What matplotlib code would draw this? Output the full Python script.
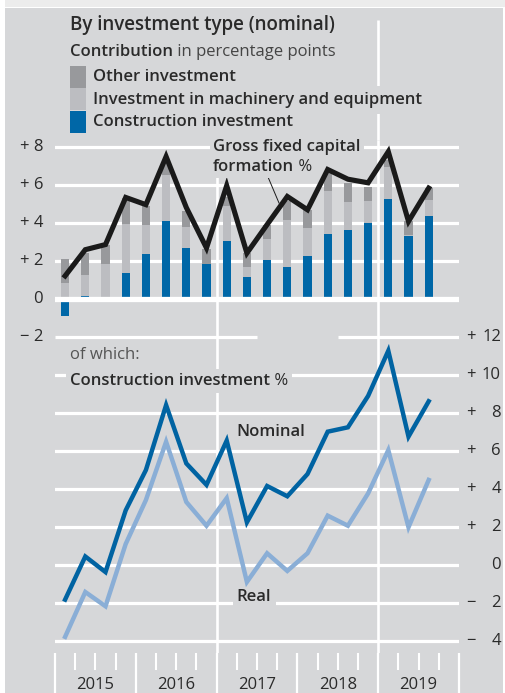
import matplotlib
matplotlib.use("Agg")
import matplotlib.pyplot as plt
import matplotlib.transforms as mtransforms
from matplotlib.patches import Rectangle
from matplotlib.lines import Line2D
import numpy as np

# data: quarterly, 2015 Q1 .. 2019 Q3
years = ["2015", "2016", "2017", "2018", "2019"]
construction = [-0.9, 0.15, -0.1, 1.33, 2.36, 4.07, 2.65, 1.85, 3.06, 1.12,
                2.03, 1.66, 2.24, 3.4, 3.6, 4.0, 5.26, 3.32, 4.37]
machinery = [0.8, 1.1, 1.8, 2.62, 1.54, 2.45, 1.1, -0.1, 1.8, 0.56,
             1.11, 2.46, 1.46, 2.28, 1.47, 1.12, 1.69, 0.05, 0.8]
other = [1.3, 1.13, 1.05, 1.35, 1.0, 0.75, 0.85, 0.75, 0.5, 0.72,
         0.76, 1.0, 0.98, 0.92, 1.01, 0.78, 0.35, 0.7, 0.65]
gfcf = [1.2, 2.58, 2.85, 5.33, 4.95, 7.48, 4.8, 2.67, 5.95, 2.4,
        3.9, 5.38, 4.68, 6.8, 6.29, 6.1, 7.74, 4.07, 5.82]
nominal = [-1.84, 0.43, -0.39, 2.86, 4.98, 8.4, 5.33, 4.2, 6.53, 2.23,
           4.14, 3.6, 4.77, 7.0, 7.23, 8.88, 11.26, 6.74, 8.6]
real = [-3.8, -1.44, -2.19, 1.09, 3.4, 6.47, 3.3, 2.05, 3.5, -0.91,
        0.6, -0.33, 0.6, 2.58, 2.05, 3.75, 6.03, 1.97, 4.46]

left_ticks = [8, 6, 4, 2, 0, -2]
right_ticks = [12, 10, 8, 6, 4, 2, 0, -2, -4]
OFFSET = 14  # lower panel shares the grid: right value r sits at left value r - 14

BG = "#d6d7d9"
BLUE = "#0067a7"
NOM = "#0063a2"
REAL = "#8aaed6"
LGRAY = "#bcbdc1"
DGRAY = "#98999c"
TXT = "#2a2a2a"
FONT = "Open Sans"
FS = 12

plt.rcParams["font.family"] = [FONT, "DejaVu Sans"]

W, H = 505, 693
fig = plt.figure(figsize=(W / 100, H / 100), dpi=100)
fig.patch.set_facecolor("white")


def fx(x):
    return x / W


def fy(y):
    return 1 - y / H


fig.patches.append(Rectangle((fx(5), 0), fx(498), 1 - 8 / H, transform=fig.transFigure,
                             facecolor=BG, edgecolor="none", zorder=-10))
fig.patches.append(Rectangle((fx(5), fy(7)), fx(500), 7 / H, transform=fig.transFigure,
                             facecolor="#ececec", edgecolor="none", zorder=-10))

ax = fig.add_axes([fx(55), fy(653), fx(404), (653 - 20) / H])
ax.set_facecolor("none")
for s in ax.spines.values():
    s.set_visible(False)
ax.set_xlim(0, 20)
ax.set_ylim(-18.65, 14.67)

# grid
for v in [8, 6, 4, 2]:
    ax.axhline(v, color="white", lw=2.3, zorder=1)
ax.axhline(0, color="white", lw=3.8, zorder=2.5)
ax.hlines([-2, -2], [0, 14], [10, 20], color="white", lw=2.3, zorder=1)
for r in right_ticks[1:]:
    ax.axhline(r - OFFSET, color="white", lw=2.3, zorder=1)
ax.vlines([8, 16], ax.get_ylim()[0], 8.35, color="white", lw=1.9, zorder=1)
ax.vlines(16, 8.35, ax.get_ylim()[1], color="white", lw=1.9, zorder=1)

# stacked bars
x = np.arange(len(gfcf)) + 0.5
pos = np.zeros(len(x))
neg = np.zeros(len(x))
for vals, col in [(construction, BLUE), (machinery, LGRAY), (other, DGRAY)]:
    v = np.array(vals)
    bottom = np.where(v >= 0, pos, neg)
    ax.bar(x, v, bottom=bottom, width=0.4, color=col, zorder=2)
    pos = np.where(v >= 0, pos + v, pos)
    neg = np.where(v < 0, neg + v, neg)

ax.plot(x, gfcf, color="#1a1a1a", lw=3.7, zorder=4, solid_joinstyle="miter")
ax.plot(x, np.array(real) - OFFSET, color=REAL, lw=3.2, zorder=3, solid_joinstyle="miter")
ax.plot(x, np.array(nominal) - OFFSET, color=NOM, lw=3.2, zorder=4, solid_joinstyle="miter")

# x ticks
ax.set_xticks(np.arange(0, 21, 4))
ax.set_xticks(np.arange(0, 21, 1), minor=True)
ax.tick_params(axis="x", which="major", length=29, width=1.6, color="white",
               direction="out", labelbottom=False)
ax.tick_params(axis="x", which="minor", length=12, width=1.5, color="white",
               direction="out")
ax.set_yticks([])
xt = mtransforms.blended_transform_factory(ax.transData, fig.transFigure)
for i, yr in enumerate(years):
    ax.text(i * 4 + 2, fy(685), yr, transform=xt, ha="center", va="center",
            fontsize=FS, color=TXT)

# y tick labels
yt = mtransforms.blended_transform_factory(fig.transFigure, ax.transData)
for v in left_ticks:
    lab = "0" if v == 0 else ("+ %d" % v if v > 0 else "\u2212 %d" % -v)
    ax.text(fx(43), v, lab, transform=yt, ha="right", va="center", fontsize=FS,
            color=TXT, clip_on=False)
for r in right_ticks:
    if r != 0:
        ax.text(fx(466), r - OFFSET, "+" if r > 0 else "\u2212", transform=yt, ha="left",
                va="center", fontsize=FS, color=TXT, clip_on=False)
    ax.text(fx(501), r - OFFSET, str(abs(r)), transform=yt, ha="right", va="center",
            fontsize=FS, color=TXT, clip_on=False)

renderer = fig.canvas.get_renderer()


def rich(xp, yp, parts, size=FS, pad=None):
    """Draw text pieces of different weight one after another (pixel coords).
    pad: if given, put a background box (pad in px) behind all pieces."""
    cur = fx(xp)
    boxes = []
    for txt, weight, col in parts:
        t = fig.text(cur, fy(yp), txt, fontsize=size, fontweight=weight, color=col,
                     ha="left", va="center", zorder=5)
        bb = t.get_window_extent(renderer)
        boxes.append(bb)
        cur = bb.x1 / fig.bbox.width
    if pad is not None:
        x0 = min(b.x0 for b in boxes) - pad
        x1 = max(b.x1 for b in boxes) + pad
        y0 = min(b.y0 for b in boxes) - pad
        y1 = max(b.y1 for b in boxes) + pad
        fig.patches.append(Rectangle((x0 / W, y0 / H), (x1 - x0) / W, (y1 - y0) / H,
                                     transform=fig.transFigure, facecolor=BG,
                                     edgecolor="none", zorder=4.5))
    return cur


# legend block
rich(70, 25, [("By investment type (nominal)", "semibold", TXT)], size=13.5)
rich(70, 52, [("Contribution", "semibold", TXT), (" in percentage points", "normal", "#444444")])
for y0, col in [(66, DGRAY), (88, LGRAY), (111, BLUE)]:
    fig.patches.append(Rectangle((fx(70), fy(y0 + 22)), fx(16), 22 / H,
                                 transform=fig.transFigure, facecolor=col,
                                 edgecolor="none", zorder=5))
rich(93, 77, [("Other investment", "semibold", TXT)])
rich(93, 100, [("Investment in machinery and equipment", "semibold", TXT)], pad=6)
rich(93, 122, [("Construction investment", "semibold", TXT)])

# annotation for GFCF line
rich(213, 147, [("Gross fixed capital", "semibold", TXT)], pad=3)
rich(213, 167, [("formation", "semibold", TXT), (" %", "normal", TXT)], pad=3)
fig.add_artist(Line2D([fx(268), fx(279)], [fy(177), fy(203)], color="#1a1a1a", lw=0.7))

# lower panel labels
rich(70, 355, [("of which:", "normal", "#555555")])
rich(70, 381, [("Construction investment", "semibold", TXT), (" %", "normal", TXT)], pad=4)
ax.text(9.0, 6.96 - OFFSET, "Nominal", fontsize=FS, fontweight="semibold", color=TXT,
        ha="left", va="center", zorder=2.6)
ax.text(9.0, -1.72 - OFFSET, "Real", fontsize=FS, fontweight="semibold", color=TXT,
        ha="left", va="center", zorder=2.6,
        bbox=dict(facecolor=BG, edgecolor="none", pad=3))

fig.savefig("out.png", dpi=100, facecolor=fig.get_facecolor())
